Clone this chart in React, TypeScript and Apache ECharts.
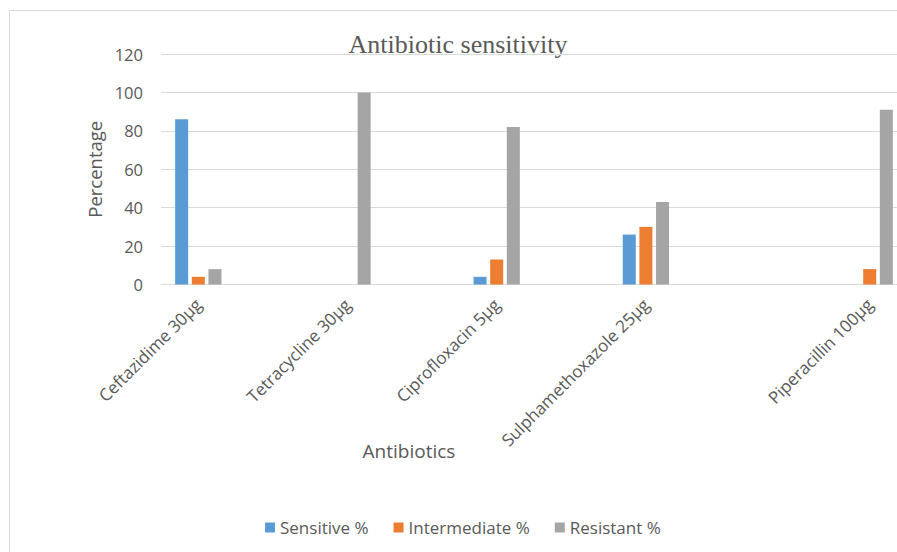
import React, { useEffect, useRef } from "react";
import * as echarts from "echarts";

// Category slots (blank slots reproduce the uneven spacing of the original chart)
const categories: string[] = [
  "Ceftazidime 30µg",
  "",
  "Tetracycline 30µg",
  "",
  "Ciprofloxacin 5µg",
  "",
  "Sulphamethoxazole 25µg",
  "",
  "",
  "Piperacillin 100µg",
];
const sensitive: (number | null)[] = [86, null, 0, null, 4, null, 26, null, null, 0];
const intermediate: (number | null)[] = [4, null, 0, null, 13, null, 30, null, null, 8];
const resistant: (number | null)[] = [8, null, 100, null, 82, null, 43, null, null, 91];
const seriesNames = ["Sensitive %", "Intermediate %", "Resistant %"];
const yTicks = { min: 0, max: 120, interval: 20 };

const FONT = "'Open Sans', 'Noto Sans', sans-serif";
const TXT = "#595959";

export default function App() {
  const ref = useRef<HTMLDivElement>(null);
  useEffect(() => {
    document.body.style.margin = "0";
    document.body.style.overflow = "hidden";
    const chart = echarts.init(ref.current!, undefined, { renderer: "svg" });
    const bar = (name: string, data: (number | null)[], color: string) => ({
      name,
      type: "bar",
      data,
      barWidth: 13,
      barGap: "28%",
      itemStyle: { color },
    });
    chart.setOption({
      animation: false,
      backgroundColor: "#ffffff",
      graphic: [
        {
          type: "rect",
          shape: { x: 9.5, y: 10.5, width: 1000, height: 1000 },
          style: { fill: "none", stroke: "#d9d9d9", lineWidth: 1 },
          silent: true,
          z: -1,
        },
        {
          type: "text",
          x: 458,
          y: 44,
          style: {
            text: "Antibiotic sensitivity",
            fontFamily: "'Liberation Serif', 'Times New Roman', serif",
            fontSize: 26,
            fill: TXT,
            textAlign: "center",
            textVerticalAlign: "middle",
          },
        },
        {
          type: "text",
          x: 409,
          y: 451,
          style: {
            text: "Antibiotics",
            fontFamily: FONT,
            fontSize: 19,
            fill: TXT,
            textAlign: "center",
            textVerticalAlign: "middle",
          },
        },
      ],
      legend: {
        left: 265,
        top: 519,
        padding: 0,
        itemWidth: 10,
        itemHeight: 10,
        itemGap: 25,
        icon: "rect",
        textStyle: { fontFamily: FONT, fontSize: 17, color: TXT, padding: [0, 0, 0, 0] },
        data: seriesNames,
      },
      grid: { left: 161, width: 746, top: 54, height: 230.5 },
      xAxis: {
        type: "category",
        data: categories,
        axisLine: { lineStyle: { color: "#d9d9d9", width: 1 } },
        axisTick: { show: false },
        axisLabel: {
          interval: 0,
          rotate: 45,
          margin: 17,
          fontFamily: FONT,
          fontSize: 17,
          color: TXT,
        },
      },
      yAxis: {
        type: "value",
        min: yTicks.min,
        max: yTicks.max,
        interval: yTicks.interval,
        name: "Percentage",
        nameLocation: "middle",
        nameGap: 54,
        nameTextStyle: { fontFamily: FONT, fontSize: 18.5, color: TXT },
        axisLine: { show: false },
        axisTick: { show: false },
        axisLabel: { margin: 18, fontFamily: FONT, fontSize: 16.5, color: TXT },
        splitLine: { lineStyle: { color: "#d9d9d9", width: 1 } },
      },
      series: [
        bar(seriesNames[0], sensitive, "#5b9bd5"),
        bar(seriesNames[1], intermediate, "#ed7d31"),
        bar(seriesNames[2], resistant, "#a5a5a5"),
      ],
    });
    return () => chart.dispose();
  }, []);
  return (
    <div
      ref={ref}
      style={{ position: "fixed", left: 0, top: 0, width: 930, height: 552 }}
    />
  );
}
